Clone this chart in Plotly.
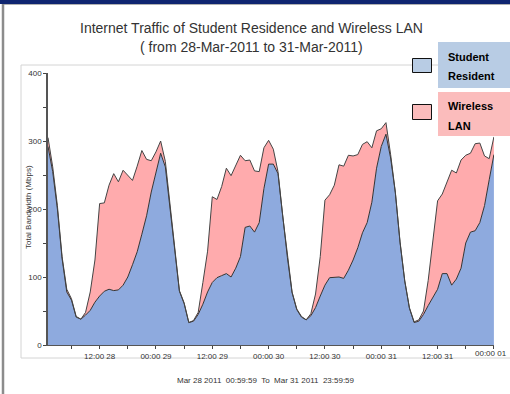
import plotly.graph_objects as go

# hours since Mar 28 2011 00:00
hours = list(range(1, 97))

student = [292, 255, 200, 127, 78, 66, 41, 38, 44, 51, 63, 72, 79, 82, 80, 81, 88, 100, 118, 137,
           163, 190, 225, 255, 282, 262, 203, 142, 79, 61, 33, 35, 45, 60, 78, 92, 99, 102, 105, 100,
           113, 130, 173, 175, 166, 180, 230, 266, 266, 252, 189, 129, 77, 52, 41, 37, 43, 55, 72, 88,
           99, 100, 100, 98, 110, 125, 143, 165, 180, 210, 260, 292, 310, 275, 224, 151, 94, 54, 33, 35,
           45, 58, 70, 82, 105, 105, 88, 97, 113, 150, 166, 168, 180, 205, 243, 280]

wireless = [13, 7, 5, 3, 4, 2, 1, 0, 4, 27, 62, 136, 130, 153, 172, 159, 169, 150, 124, 126,
            123, 83, 46, 29, 18, 8, 2, 1, 1, 1, 0, 1, 3, 32, 60, 126, 115, 131, 155, 149,
            151, 149, 98, 97, 90, 75, 60, 35, 22, 3, 1, 1, 1, 1, 1, 0, 3, 20, 58, 125,
            122, 135, 165, 165, 169, 153, 137, 130, 119, 80, 55, 26, 17, 5, 1, 1, 1, 1, 1, 2,
            5, 37, 80, 130, 117, 135, 169, 156, 159, 129, 116, 128, 117, 73, 31, 26]

x_tick_vals = [12, 24, 36, 48, 60, 72, 84, 96]
x_tick_text = ["12:00 28", "00:00 29", "12:00 29", "00:00 30", "12:00 30", "00:00 31", "12:00 31", ""]
last_tick_label = "00:00 01"
y_tick_vals = [0, 100, 200, 300, 400]

# pixel -> paper helpers (plot area: x 48..494, y 73..345)
L, R, T, B = 48, 494, 73, 345
def px(x):
    return (x - L) / (R - L)
def py(y):
    return (B - y) / (B - T)

fig = go.Figure()
fig.add_trace(go.Scatter(x=hours, y=student, name="Student Resident", stackgroup="one",
                         mode="lines", line=dict(color="#333333", width=1),
                         fillcolor="#8eaade"))
fig.add_trace(go.Scatter(x=hours, y=wireless, name="Wireless LAN", stackgroup="one",
                         mode="lines", line=dict(color="#444444", width=1),
                         fillcolor="#ffabad"))

tick_font = dict(family="Liberation Sans, Arial", size=8, color="#333333")

fig.update_layout(
    width=510, height=394,
    margin=dict(l=L, r=510 - R, t=T, b=394 - B),
    paper_bgcolor="white", plot_bgcolor="white",
    showlegend=False,
    xaxis=dict(range=[1, 96.02], tickvals=x_tick_vals, ticktext=x_tick_text, showgrid=False,
               zeroline=False, showline=True, linecolor="#555555", linewidth=1,
               ticks="outside", ticklen=3, tickcolor="#444444", tickfont=tick_font,
               minor=dict(dtick=6, tick0=0, ticks="outside", ticklen=3, tickcolor="#444444")),
    yaxis=dict(range=[0, 400], tickvals=y_tick_vals, showgrid=False, zeroline=False,
               showline=True, linecolor="#555555", linewidth=1.5,
               ticks="outside", ticklen=3, tickcolor="#444444", tickfont=tick_font,
               minor=dict(dtick=50, ticks="outside", ticklen=3, tickcolor="#444444")),
)

shapes = [
    # outer frame of the chart panel
    dict(type="rect", xref="paper", yref="paper", x0=px(21), x1=px(512), y0=py(358), y1=py(65),
         line=dict(color="#d4d4d4", width=1), fillcolor="rgba(0,0,0,0)", layer="below"),
    # top navy bar
    dict(type="rect", xref="paper", yref="paper", x0=px(0), x1=px(510), y0=py(4), y1=py(0),
         line=dict(width=0), fillcolor="#0f2570"),
    dict(type="line", xref="paper", yref="paper", x0=px(3), x1=px(510), y0=py(4.5), y1=py(4.5),
         line=dict(color="#b0b0b0", width=1)),
    # left gray border
    dict(type="line", xref="paper", yref="paper", x0=px(3), x1=px(3), y0=py(394), y1=py(4),
         line=dict(color="#8c8c8c", width=2.5)),
    # legend boxes
    dict(type="rect", xref="paper", yref="paper", x0=px(438), x1=px(511), y0=py(88), y1=py(42),
         line=dict(width=0), fillcolor="#b8cce4"),
    dict(type="rect", xref="paper", yref="paper", x0=px(438), x1=px(511), y0=py(136), y1=py(92),
         line=dict(width=0), fillcolor="#fbbcbc"),
    dict(type="rect", xref="paper", yref="paper", x0=px(412.5), x1=px(431.5), y0=py(72.5), y1=py(58.5),
         line=dict(color="#111111", width=1), fillcolor="#b8cce4"),
    dict(type="rect", xref="paper", yref="paper", x0=px(412.5), x1=px(431.5), y0=py(119.5), y1=py(104.5),
         line=dict(color="#111111", width=1), fillcolor="#fbbcbc"),
]
fig.update_layout(shapes=shapes)

title_font = dict(family="Liberation Sans, Arial", size=14, color="#333333")
leg_font = dict(family="Liberation Sans, Arial", size=11, color="#000000")
small_font = dict(family="Liberation Sans, Arial", size=8, color="#333333")
ann = [
    dict(text="Internet Traffic of Student Residence and Wireless LAN", x=px(251), y=py(28),
         font=title_font),
    dict(text="( from 28-Mar-2011 to 31-Mar-2011)", x=px(251), y=py(47), font=title_font),
    dict(text="Total Bandwidth (Mbps)", x=px(28), y=py(207), textangle=-90, font=small_font),
    dict(text="Mar 28 2011  00:59:59  To  Mar 31 2011  23:59:59", x=px(266), y=py(380),
         font=small_font),
    dict(text=last_tick_label, x=px(509), y=py(353), xanchor="right", font=small_font),
    dict(text="<b>Student</b>", x=px(446), y=py(57), xanchor="left", font=leg_font),
    dict(text="<b>Resident</b>", x=px(446), y=py(76), xanchor="left", font=leg_font),
    dict(text="<b>Wireless</b>", x=px(446), y=py(106), xanchor="left", font=leg_font),
    dict(text="<b>LAN</b>", x=px(446), y=py(126), xanchor="left", font=leg_font),
]
for a in ann:
    a.setdefault("xanchor", "center")
    a.update(xref="paper", yref="paper", yanchor="middle", showarrow=False)
fig.update_layout(annotations=ann)

fig.write_html("out.html", config=dict(displayModeBar=False),
               post_script="document.body.style.margin='0';document.body.style.overflow='hidden';")
